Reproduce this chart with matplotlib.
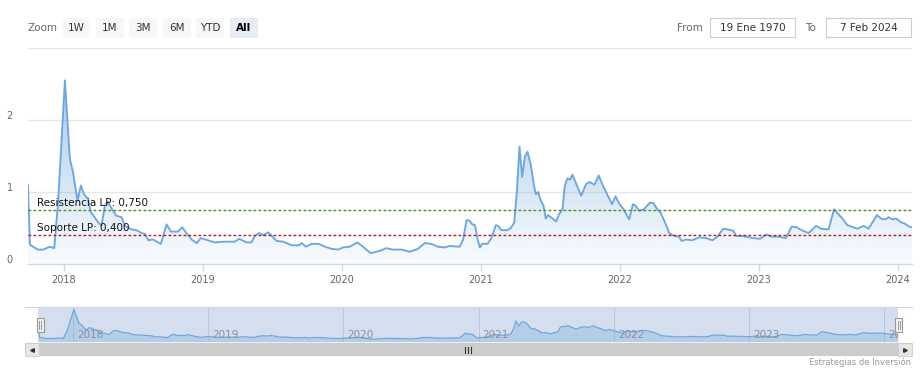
import matplotlib
matplotlib.use('Agg')
import matplotlib.pyplot as plt
import matplotlib.dates as mdates
from matplotlib.patches import Rectangle
from matplotlib.lines import Line2D
from matplotlib.transforms import ScaledTranslation
import numpy as np
import pandas as pd

# datos
fechas = [
    '2017-09-29', '2017-10-04', '2017-10-12', '2017-10-25', '2017-11-08', '2017-11-25',
    '2017-12-07', '2017-12-17', '2018-01-04', '2018-01-17', '2018-01-25', '2018-02-06',
    '2018-02-15', '2018-02-23', '2018-03-06', '2018-03-13', '2018-03-23', '2018-04-01',
    '2018-04-10', '2018-04-19', '2018-04-27', '2018-05-08', '2018-05-19', '2018-06-02',
    '2018-06-10', '2018-06-28', '2018-07-11', '2018-07-24', '2018-08-02', '2018-08-11',
    '2018-08-24', '2018-09-02', '2018-09-13', '2018-09-28', '2018-10-09', '2018-10-28',
    '2018-11-08', '2018-11-19', '2018-12-03', '2018-12-16', '2018-12-27', '2019-01-15',
    '2019-02-02', '2019-02-24', '2019-03-26', '2019-04-07', '2019-04-26', '2019-05-09',
    '2019-05-18', '2019-05-29', '2019-06-09', '2019-06-22', '2019-07-01', '2019-07-14',
    '2019-07-31', '2019-08-23', '2019-09-11', '2019-09-18', '2019-09-29', '2019-10-14',
    '2019-11-01', '2019-11-18', '2019-12-06', '2019-12-23', '2020-01-04', '2020-01-22',
    '2020-02-11', '2020-02-26', '2020-03-17', '2020-04-01', '2020-04-14', '2020-04-27',
    '2020-05-15', '2020-06-06', '2020-06-28', '2020-07-19', '2020-08-06', '2020-08-23',
    '2020-09-10', '2020-09-27', '2020-10-11', '2020-11-06', '2020-11-15', '2020-11-24',
    '2020-12-02', '2020-12-09', '2020-12-16', '2020-12-23', '2020-12-29', '2021-01-04',
    '2021-01-18', '2021-01-28', '2021-02-09', '2021-02-15', '2021-02-23', '2021-03-11',
    '2021-03-20', '2021-03-29', '2021-04-05', '2021-04-12', '2021-04-19', '2021-04-26',
    '2021-05-03', '2021-05-12', '2021-05-20', '2021-05-25', '2021-05-31', '2021-06-07',
    '2021-06-14', '2021-06-20', '2021-06-26', '2021-07-08', '2021-07-17', '2021-07-25',
    '2021-08-03', '2021-08-09', '2021-08-16', '2021-08-23', '2021-08-29', '2021-09-10',
    '2021-09-21', '2021-10-04', '2021-10-13', '2021-10-26', '2021-11-06', '2021-11-17',
    '2021-11-30', '2021-12-11', '2021-12-20', '2021-12-31', '2022-01-09', '2022-01-25',
    '2022-02-04', '2022-02-11', '2022-02-20', '2022-03-05', '2022-03-20', '2022-03-29',
    '2022-04-09', '2022-04-18', '2022-04-27', '2022-05-03', '2022-05-10', '2022-05-23',
    '2022-06-05', '2022-06-12', '2022-06-23', '2022-07-10', '2022-07-28', '2022-08-15',
    '2022-09-01', '2022-09-14', '2022-09-29', '2022-10-11', '2022-10-26', '2022-11-02',
    '2022-11-15', '2022-11-28', '2022-12-16', '2023-01-04', '2023-01-20', '2023-02-03',
    '2023-02-21', '2023-03-13', '2023-03-28', '2023-04-10', '2023-04-23', '2023-05-11',
    '2023-05-20', '2023-05-31', '2023-06-13', '2023-07-03', '2023-07-17', '2023-07-29',
    '2023-08-07', '2023-08-21', '2023-09-06', '2023-09-17', '2023-10-03', '2023-10-16',
    '2023-11-07', '2023-11-18', '2023-11-29', '2023-12-08', '2023-12-17', '2023-12-28',
    '2024-01-09', '2024-01-19', '2024-01-31', '2024-02-07',
]
valores = [
    1.09, 0.27, 0.24, 0.20, 0.20, 0.24,
    0.22, 0.86, 2.55, 1.46, 1.28, 0.88,
    1.09, 0.97, 0.90, 0.72, 0.65, 0.58,
    0.53, 0.81, 0.86, 0.76, 0.67, 0.65,
    0.53, 0.48, 0.47, 0.43, 0.42, 0.33,
    0.34, 0.31, 0.28, 0.55, 0.45, 0.45,
    0.51, 0.43, 0.34, 0.29, 0.36, 0.33,
    0.30, 0.31, 0.31, 0.35, 0.30, 0.30,
    0.39, 0.43, 0.40, 0.44, 0.39, 0.32,
    0.31, 0.26, 0.26, 0.29, 0.24, 0.28,
    0.28, 0.24, 0.21, 0.20, 0.23, 0.24,
    0.30, 0.24, 0.15, 0.17, 0.19, 0.22,
    0.20, 0.20, 0.17, 0.21, 0.29, 0.28,
    0.24, 0.23, 0.25, 0.24, 0.34, 0.61,
    0.60, 0.55, 0.54, 0.34, 0.23, 0.28,
    0.28, 0.36, 0.54, 0.53, 0.47, 0.47,
    0.50, 0.57, 1.00, 1.63, 1.21, 1.49,
    1.56, 1.37, 1.09, 0.97, 1.00, 0.88,
    0.81, 0.63, 0.68, 0.63, 0.59, 0.69,
    0.76, 1.09, 1.19, 1.17, 1.24, 1.09,
    0.95, 1.11, 1.14, 1.10, 1.23, 1.09,
    0.95, 0.83, 0.94, 0.83, 0.77, 0.62,
    0.83, 0.81, 0.74, 0.76, 0.85, 0.85,
    0.76, 0.71, 0.60, 0.53, 0.43, 0.39,
    0.38, 0.32, 0.34, 0.33, 0.37, 0.36,
    0.33, 0.38, 0.49, 0.48, 0.46, 0.39,
    0.39, 0.38, 0.36, 0.35, 0.41, 0.38,
    0.38, 0.36, 0.52, 0.51, 0.47, 0.43,
    0.47, 0.53, 0.49, 0.48, 0.76, 0.69,
    0.64, 0.54, 0.51, 0.49, 0.53, 0.49,
    0.68, 0.63, 0.62, 0.65, 0.62, 0.63,
    0.58, 0.56, 0.52, 0.51,
]
resistencia = 0.750
soporte = 0.400
anios = [2018, 2019, 2020, 2021, 2022, 2023, 2024]
botones = ['1W', '1M', '3M', '6M', 'YTD', 'All']
desde = '19 Ene 1970'
hasta = '7 Feb 2024'

azul = '#6fa7dc'
W, H = 923, 379


def fx(x):
    return x / W


def fy(y):
    return 1 - y / H


def caja(x0, y0, x1, y1):
    return [fx(x0), fy(y1), fx(x1) - fx(x0), fy(y0) - fy(y1)]


def rect(x0, y0, x1, y1, **kw):
    fig.add_artist(Rectangle((fx(x0), fy(y1)), fx(x1) - fx(x0), fy(y0) - fy(y1),
                             transform=fig.transFigure, **kw))


plt.rcParams['font.family'] = 'DejaVu Sans'
fig = plt.figure(figsize=(9.23, 3.79), dpi=100)
fechas_dt = pd.to_datetime(fechas)
xnum = mdates.date2num(fechas_dt)
anios_dt = pd.to_datetime([f'{a}-01-01' for a in anios])

# ---- grafico principal ----
ax = fig.add_axes(caja(28, 48, 912, 264))
ax.set_xlim(xnum[0], xnum[-1])
ax.set_ylim(0, 3)

poly = ax.fill_between(xnum, valores, 0, color='none', lw=0)
grad = np.zeros((256, 1, 4))
grad[:, 0, 0] = 111 / 255
grad[:, 0, 1] = 167 / 255
grad[:, 0, 2] = 220 / 255
grad[:, 0, 3] = np.linspace(0.04, 0.62, 256)
img = ax.imshow(grad, extent=[xnum[0], xnum[-1], 0, 2.6], origin='lower',
                aspect='auto', zorder=2, interpolation='bilinear')
img.set_clip_path(poly.get_paths()[0], transform=ax.transData)
ax.plot(xnum, valores, color=azul, lw=1.35, zorder=4, solid_joinstyle='round')
ax.set_xlim(xnum[0], xnum[-1])
ax.set_ylim(0, 3)

ax.axhline(resistencia, color='#4f8a2a', lw=1, ls=(0, (2, 1.6)), zorder=5)
ax.axhline(soporte, color='#b0182a', lw=1, ls=(0, (2, 1.6)), zorder=5)
for nivel, txt in [(resistencia, 'Resistencia LP: 0,750'), (soporte, 'Soporte LP: 0,400')]:
    ax.annotate(txt, xy=(9 / 884, nivel), xycoords=('axes fraction', 'data'),
                xytext=(0, 1.5), textcoords='offset points', va='bottom', ha='left',
                fontsize=7.5, color='#111111', zorder=6)

for s in ['top', 'left', 'right']:
    ax.spines[s].set_visible(False)
ax.spines['bottom'].set_color('#ccd6eb')
ax.set_yticks([0, 1, 2, 3])
ax.set_yticklabels(['0', '1', '2', ''])
ax.grid(axis='y', color='#e6e6e6', lw=1)
ax.set_axisbelow(True)
ax.tick_params(axis='y', length=0, pad=11, labelsize=7, labelcolor='#666666')
for lab in ax.get_yticklabels():
    lab.set_transform(lab.get_transform() + ScaledTranslation(0, 5 / 100, fig.dpi_scale_trans))
ax.set_xticks(mdates.date2num(anios_dt))
ax.set_xticklabels([str(a) for a in anios])
ax.tick_params(axis='x', length=5, width=1, color='#ccd6eb', pad=3,
               labelsize=7, labelcolor='#666666')

# ---- navegador ----
nav = fig.add_axes(caja(25, 307, 912, 342))
span = xnum[-1] - xnum[0]
nav.set_xlim(xnum[0] - 13 / 860 * span, xnum[-1] + 14 / 860 * span)
nav.set_ylim(-0.08, 2.75)
mask = nav.axvspan(xnum[0], xnum[-1], color='#d5deee', lw=0, zorder=0)
for a in anios_dt:
    nav.axvline(mdates.date2num(a), color='#bcc7dc', lw=0.7, zorder=1)
nav.fill_between(xnum, valores, -0.08, color=azul, alpha=0.3, lw=0, zorder=2)
nav.plot(xnum, valores, color=azul, lw=0.9, zorder=3)
for a in anios_dt:
    t = nav.text(mdates.date2num(a), 0.2, str(a.year), transform=nav.get_xaxis_transform(),
                 fontsize=7.5, color='#8a909c', va='center', ha='left', zorder=4)
    t.set_transform(t.get_transform() + ScaledTranslation(4 / 100, 0, fig.dpi_scale_trans))
    t.set_clip_on(True)
    t.set_clip_path(mask)
nav.set_xticks([])
nav.set_yticks([])
for s in ['left', 'right', 'bottom']:
    nav.spines[s].set_visible(False)
nav.spines['top'].set_color('#cfd6e3')
nav.spines['top'].set_linewidth(0.8)

# asas del navegador
for x0 in [36.5, 895]:
    rect(x0, 318, x0 + 7, 332, facecolor='#f2f2f2', edgecolor='#999999', lw=0.8)
    for dx in [2.5, 4.5]:
        fig.add_artist(Line2D([fx(x0 + dx)] * 2, [fy(321), fy(329)], color='#999999',
                              lw=0.7, transform=fig.transFigure))

# barra de desplazamiento
rect(25, 343, 912, 356, facecolor='#cccccc', edgecolor='none')
rect(25, 343, 39, 356, facecolor='#e6e6e6', edgecolor='#cccccc', lw=0.6)
rect(898, 343, 912, 356, facecolor='#e6e6e6', edgecolor='#cccccc', lw=0.6)
fig.add_artist(Line2D([fx(32)], [fy(349.5)], marker='<', markersize=2.6, color='#333333',
                      transform=fig.transFigure))
fig.add_artist(Line2D([fx(905)], [fy(349.5)], marker='>', markersize=2.6, color='#333333',
                      transform=fig.transFigure))
for gx in [465, 468, 471]:
    fig.add_artist(Line2D([fx(gx)] * 2, [fy(346.5), fy(352.5)], color='#333333', lw=0.8,
                          transform=fig.transFigure))

fig.text(fx(911), fy(362), 'Estrategias de Inversión', fontsize=6, color='#999999',
         ha='right', va='center')

# ---- selector de rango ----
fig.text(fx(28), fy(28), 'Zoom', fontsize=7.5, color='#666666', ha='left', va='center')
for i, b in enumerate(botones):
    x0 = 62 + i * 33.5
    activo = b == 'All'
    rect(x0, 18, x0 + 28, 38, facecolor='#e6ebf5' if activo else '#f7f7f7', edgecolor='none')
    fig.text(fx(x0 + 14), fy(28), b, fontsize=7.5, ha='center', va='center',
             color='#000000' if activo else '#333333',
             fontweight='bold' if activo else 'normal')

fig.text(fx(677), fy(28), 'From', fontsize=7.5, color='#666666', ha='left', va='center')
rect(710, 18, 795, 37, facecolor='white', edgecolor='#cccccc', lw=0.8)
fig.text(fx(752.5), fy(28), desde, fontsize=7.5, color='#333333', ha='center', va='center')
fig.text(fx(805), fy(28), 'To', fontsize=7.5, color='#666666', ha='left', va='center')
rect(826, 18, 911, 37, facecolor='white', edgecolor='#cccccc', lw=0.8)
fig.text(fx(868.5), fy(28), hasta, fontsize=7.5, color='#333333', ha='center', va='center')

fig.savefig('out.png', dpi=100)
